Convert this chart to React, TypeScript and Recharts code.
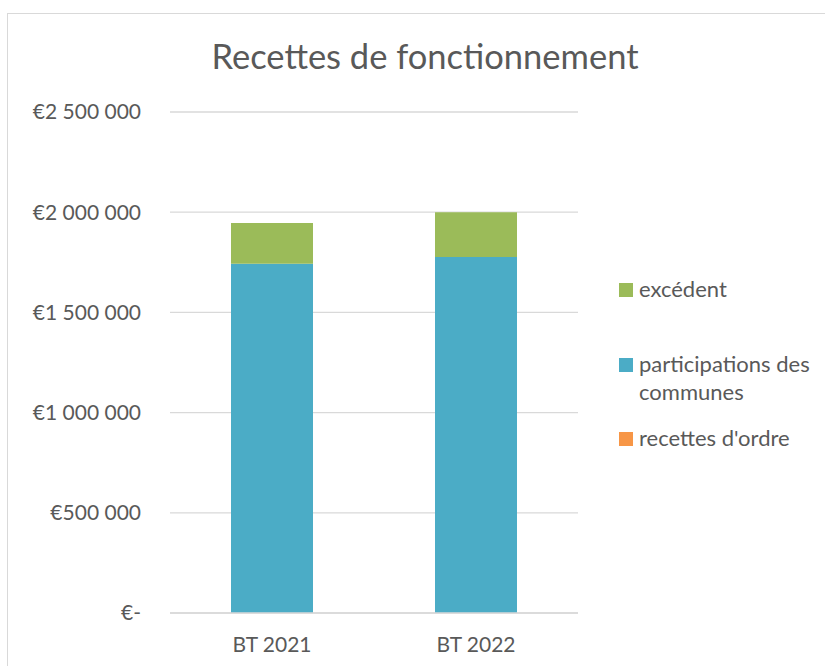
import React from "react";
import { BarChart, Bar, XAxis, YAxis, CartesianGrid, Legend } from "recharts";

const categories = ["BT 2021", "BT 2022"];
const recettesOrdre = [0, 0];
const participations = [1743000, 1776000];
const excedent = [203000, 224000];
const yTicks = [0, 500000, 1000000, 1500000, 2000000, 2500000];

const seriesNames = {
  ordre: "recettes d'ordre",
  part: "participations des communes",
  exc: "excédent",
};
const colors = { ordre: "#F79646", part: "#4BACC6", exc: "#9BBB59" };

const data = categories.map((c, i) => ({
  name: c,
  ordre: recettesOrdre[i],
  part: participations[i],
  exc: excedent[i],
}));

const FONT = "Lato, 'Open Sans', sans-serif";
const TEXT = "#595959";

const fmt = (v: number) =>
  v === 0 ? "€-" : "€" + String(v).replace(/\B(?=(\d{3})+(?!\d))/g, " ");

const legendOrder: Array<{ key: "exc" | "part" | "ordre"; lines: string[]; top: number }> = [
  { key: "exc", lines: ["excédent"], top: 0 },
  { key: "part", lines: ["participations des", "communes"], top: 75 },
  { key: "ordre", lines: ["recettes d'ordre"], top: 149 },
];

const renderLegend = () => (
  <div style={{ position: "relative", width: 200, height: 170, fontFamily: FONT }}>
    {legendOrder.map((it) => (
      <div key={it.key} style={{ position: "absolute", left: 0, top: it.top }}>
        <div
          style={{
            position: "absolute",
            left: 0,
            top: 0,
            width: 14,
            height: 14,
            background: colors[it.key],
          }}
        />
        {it.lines.map((ln, j) => (
          <div
            key={j}
            style={{
              position: "absolute",
              left: 20,
              top: -8 + j * 28,
              whiteSpace: "nowrap",
              fontSize: 22,
              lineHeight: "28px",
              color: TEXT,
              height: 28,
              display: "flex",
              alignItems: "center",
            }}
          >
            {ln}
          </div>
        ))}
      </div>
    ))}
  </div>
);

export default function App() {
  return (
    <div
      style={{
        position: "absolute",
        left: 0,
        top: 0,
        width: 825,
        height: 666,
        overflow: "hidden",
        background: "#fff",
      }}
    >
      <div
        style={{
          position: "absolute",
          left: 7,
          top: 13,
          width: 840,
          height: 680,
          border: "1px solid #d9d9d9",
        }}
      />
      <div
        style={{
          position: "absolute",
          left: 0,
          width: 850,
          top: 35,
          textAlign: "center",
          fontFamily: FONT,
          fontSize: 34.5,
          color: TEXT,
          lineHeight: "42px",
        }}
      >
        Recettes de fonctionnement
      </div>
      <div style={{ position: "absolute", left: 0, top: 0 }}>
        <BarChart
          width={825}
          height={666}
          data={data}
          margin={{ top: 112, right: 47, bottom: 23, left: 30 }}
          barSize={82}
        >
          <CartesianGrid vertical={false} stroke="#d9d9d9" strokeWidth={1.3} />
          <XAxis
            dataKey="name"
            height={30}
            axisLine={{ stroke: "#d9d9d9", strokeWidth: 1.5 }}
            tickLine={false}
            tick={{ fill: TEXT, fontSize: 21, fontFamily: FONT }}
            tickMargin={18}
          />
          <YAxis
            width={140}
            domain={[0, 2500000]}
            ticks={yTicks}
            tickFormatter={fmt}
            axisLine={false}
            tickLine={false}
            tickSize={0}
            tickMargin={29}
            tick={{ fill: TEXT, fontSize: 21, fontFamily: FONT }}
            interval={0}
          />
          <Bar dataKey="ordre" name={seriesNames.ordre} stackId="a" fill={colors.ordre} isAnimationActive={false} />
          <Bar dataKey="part" name={seriesNames.part} stackId="a" fill={colors.part} isAnimationActive={false} />
          <Bar dataKey="exc" name={seriesNames.exc} stackId="a" fill={colors.exc} isAnimationActive={false} />
          <Legend
            layout="vertical"
            align="right"
            verticalAlign="middle"
            content={renderLegend}
            wrapperStyle={{ position: "absolute", left: 619, top: 283, width: 200, height: 170 }}
          />
        </BarChart>
      </div>
    </div>
  );
}
